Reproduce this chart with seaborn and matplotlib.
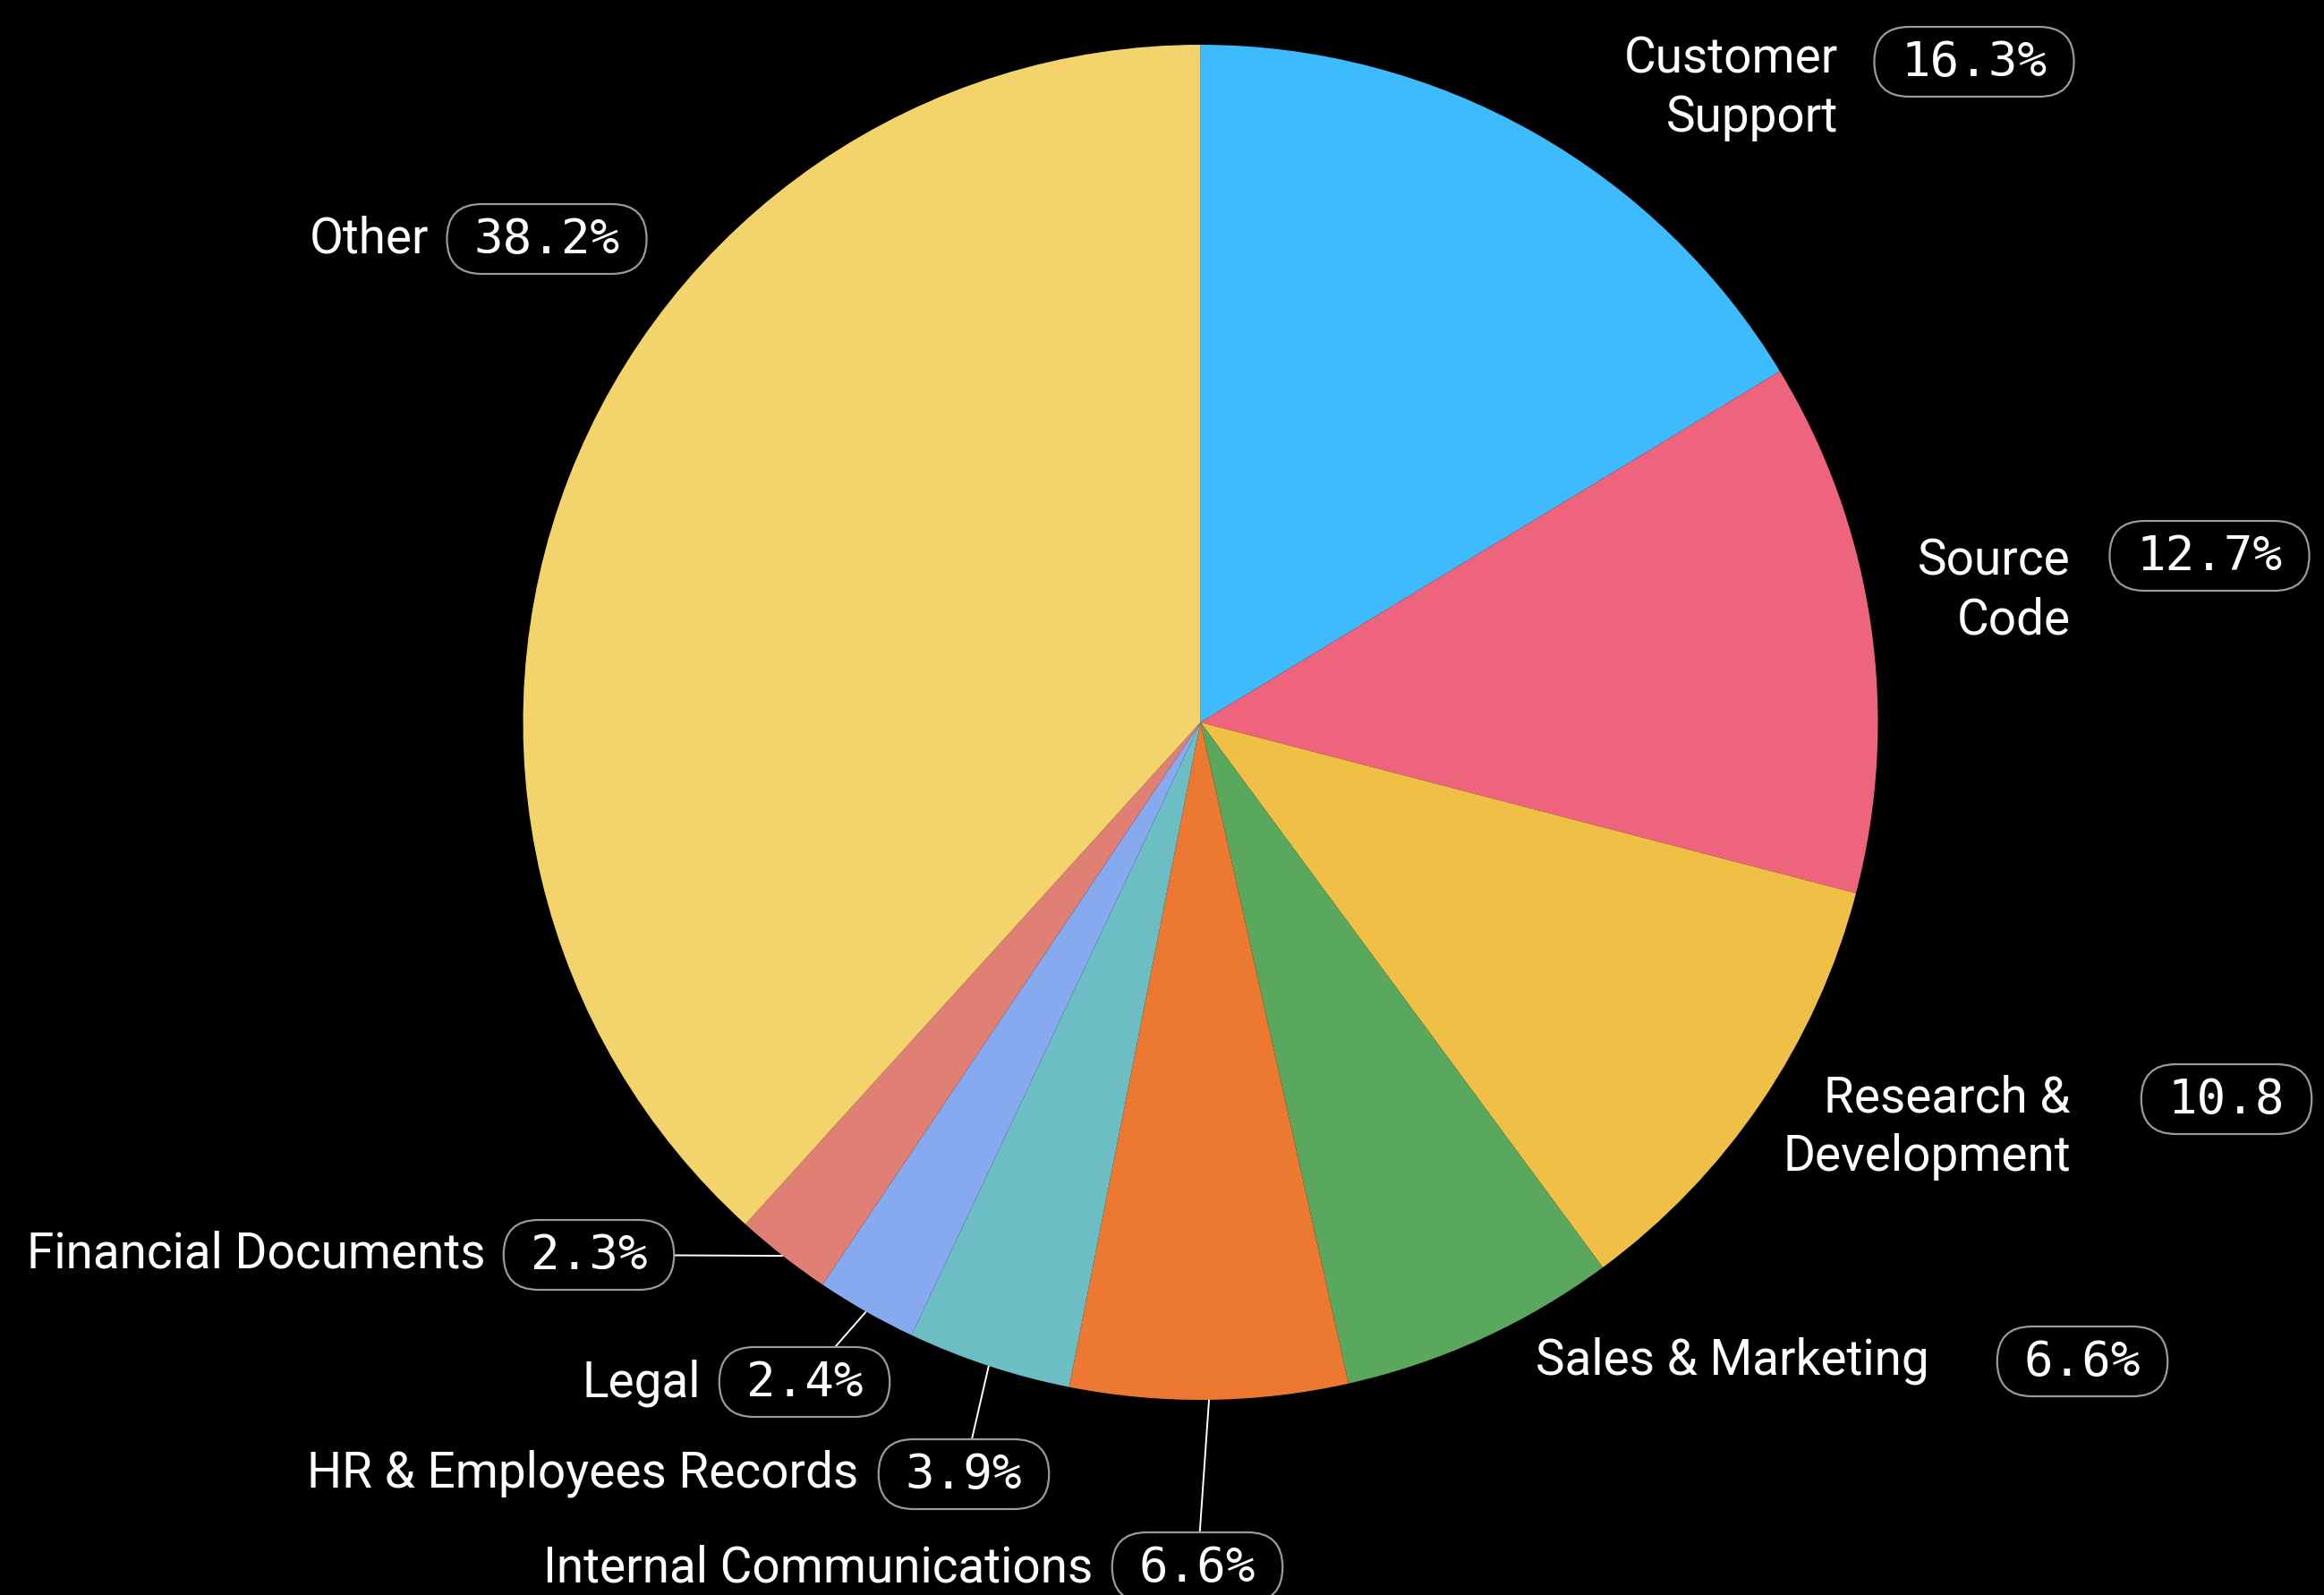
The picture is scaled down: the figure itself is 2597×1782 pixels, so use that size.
import numpy as np
import matplotlib
matplotlib.use("Agg")
import matplotlib.pyplot as plt
from matplotlib.patches import FancyBboxPatch
import seaborn as sns

# --- data -------------------------------------------------------------
categories = [
    "Customer\nSupport",
    "Source\nCode",
    "Research &\nDevelopment",
    "Sales & Marketing",
    "Internal Communications",
    "HR & Employees Records",
    "Legal",
    "Financial Documents",
    "Other",
]
shares = [16.3, 12.7, 10.8, 6.6, 6.6, 3.9, 2.4, 2.3, 38.2]
show_percent = [True, True, False, True, True, True, True, True, True]
colors = ["#3DBBFD", "#EE647D", "#F0BF45", "#5AA85E", "#EC7832",
          "#6CBDC4", "#87A9EF", "#E08075", "#F3D36B"]

# --- layout (pixel coordinates, y measured from the top) ---------------
W, H = 2597, 1783
pie_center = (1341.5, 808.0)
pie_radius = 757
label_xy = [(2054, 99), (2314, 660), (2314, 1260), (2156, 1520), (1221, 1752),
            (959, 1646), (783, 1545), (542, 1401), (479, 267)]
badge_xy = [(2206, 70), (2469, 622), (2488, 1229), (2327, 1522), (1338, 1752),
            (1077, 1648), (899, 1545), (658, 1403), (611, 268)]
has_leader = [False, False, False, False, True, True, True, True, False]

sns.set_theme(style="dark", rc={"figure.facecolor": "black",
                                "axes.facecolor": "black",
                                "savefig.facecolor": "black"})
plt.rcParams["font.family"] = ["Roboto", "DejaVu Sans"]

fig = plt.figure(figsize=(W / 100, H / 100), dpi=100)
ax = fig.add_axes([0, 0, 1, 1])

cx, cy = pie_center[0], H - pie_center[1]
wedges, _ = ax.pie(shares, colors=colors, startangle=90, counterclock=False,
                   radius=pie_radius, center=(cx, cy),
                   wedgeprops=dict(linewidth=0))
for w in wedges:
    w.set_zorder(1)

ax.set_xlim(0, W)
ax.set_ylim(0, H)
ax.set_aspect("equal")
ax.axis("off")

badge_texts = []
for i, (lab, val) in enumerate(zip(categories, shares)):
    lx, ly = label_xy[i]
    ax.text(lx, H - ly, lab, ha="right", va="center", multialignment="right",
            color="white", fontsize=39.5, linespacing=1.3, zorder=4)
    bx, by = badge_xy[i]
    txt = f"{val:.1f}%" if show_percent[i] else f"{val:.1f}"
    t = ax.text(bx, H - by, txt, ha="center", va="center", color="white",
                fontsize=39, family=["DejaVu Sans Mono"], zorder=5)
    badge_texts.append(t)

    if has_leader[i]:
        w = wedges[i]
        mid = np.deg2rad((w.theta1 + w.theta2) / 2)
        px = cx + pie_radius * np.cos(mid)
        py = cy + pie_radius * np.sin(mid)
        ax.plot([px, bx], [py, H - by], color="white", lw=1.4, zorder=2,
                solid_capstyle="butt")

# pill-shaped frames sized to their text
fig.canvas.draw()
renderer = fig.canvas.get_renderer()
box_h = 78
for i, t in enumerate(badge_texts):
    ext = t.get_window_extent(renderer)
    bw = ext.width + 2 * 30
    bx, by = badge_xy[i]
    patch = FancyBboxPatch((bx - bw / 2, H - by - box_h / 2), bw, box_h,
                           boxstyle=f"round,pad=0,rounding_size={box_h / 2}",
                           mutation_scale=1, facecolor="black",
                           edgecolor="#9A9A9A", linewidth=1.6, zorder=3)
    ax.add_patch(patch)

fig.savefig("out.png", dpi=100, facecolor="black")
